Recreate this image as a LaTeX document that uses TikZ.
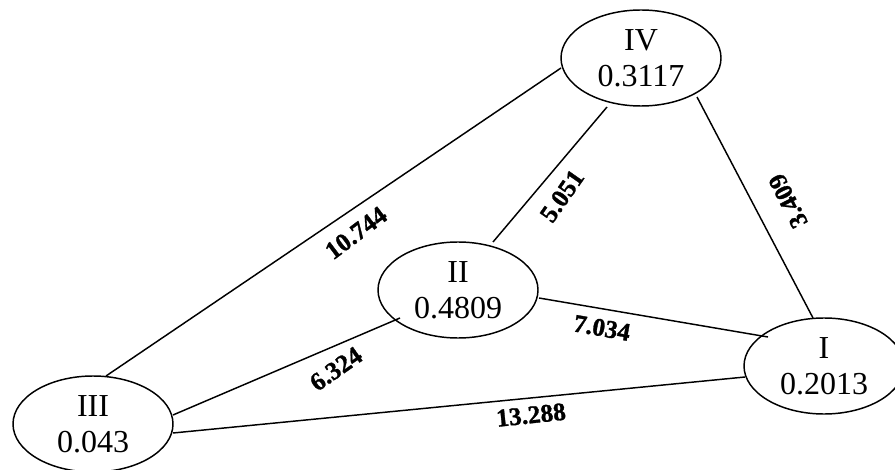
\documentclass[tikz,border=0pt]{standalone}
\usepackage{fontspec}
\setmainfont{Liberation Serif}
\newfontfamily\weightfont[FakeBold=1.2]{Liberation Serif}
\usetikzlibrary{shapes.geometric}
\tikzset{
  state/.style={draw, ellipse, line width=1.1pt, minimum width=120pt, minimum height=72pt,
    inner sep=0pt, align=center, font=\fontsize{24}{27}\selectfont},
  link/.style={line width=1.1pt},
  weight/.style={font=\weightfont\fontsize{19}{21}\selectfont\bfseries, inner sep=0pt}
}
\begin{document}
\begin{tikzpicture}[x=0.75pt,y=-0.75pt]
\useasboundingbox (0,0) rectangle (895,470);
\node[state] (IV)  at (641,58)  {IV\\0.3117};
\node[state] (II)  at (458,290) {II\\0.4809};
\node[state] (III) at (93,424)  {III\\0.043};
\node[state] (I)   at (824,366) {I\\0.2013};

\draw[link] ([shift={(13,-48)}]III.center) -- ([shift={(-80,10)}]IV.center);
\draw[link] ([shift={(-34,49)}]IV.center) -- ([shift={(35,-48)}]II.center);
\draw[link] ([shift={(56,39)}]IV.center) -- ([shift={(-11,-48)}]I.center);
\draw[link] ([shift={(81,8)}]II.center) -- ([shift={(-56,-29)}]I.center);
\draw[link] ([shift={(80,-9)}]III.center) -- ([shift={(-58,28)}]II.center);
\draw[link] ([shift={(80,9)}]III.center) -- ([shift={(-79,11)}]I.center);

\node[weight, rotate=37]  (w1) at (356,233) {10.744};
\node[weight, rotate=55]  (w2) at (562,196) {5.051};
\node[weight, rotate=117] (w3) at (788,201) {3.409};
\node[weight, rotate=-10] (w4) at (602,328) {7.034};
\node[weight, rotate=35]  (w5) at (336,369) {6.324};
\node[weight, rotate=6]   (w6) at (531,415) {13.288};
\end{tikzpicture}
\end{document}
